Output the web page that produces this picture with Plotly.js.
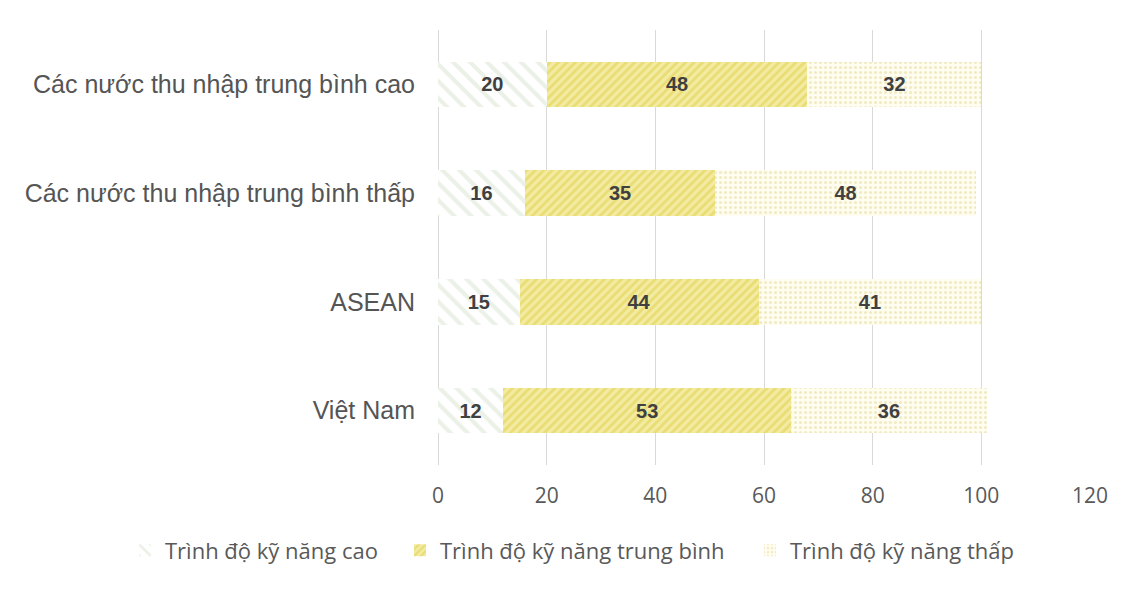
<!DOCTYPE html>
<html>
<head>
<meta charset="utf-8">
<script src="https://cdn.plot.ly/plotly-3.0.1.min.js"></script>
<style>html,body{margin:0;padding:0;background:#fff;}</style>
</head>
<body>
<div id="chart" style="width:1134px;height:597px;"></div>
<script>
const categories = ["Việt Nam", "ASEAN", "Các nước thu nhập trung bình thấp", "Các nước thu nhập trung bình cao"];
const seriesNames = ["Trình độ kỹ năng cao", "Trình độ kỹ năng trung bình", "Trình độ kỹ năng thấp"];
const highSkill = [12, 15, 16, 20];
const midSkill = [53, 44, 35, 48];
const lowSkill = [36, 41, 48, 32];
const xTicks = [0, 20, 40, 60, 80, 100, 120];

const styles = [
  {shape: "\\", fg: "#d8e3cf", bg: "#ffffff", size: 12, solidity: 0.35},
  {shape: "/", fg: "#dfcd44", bg: "#f3eba2", size: 6, solidity: 0.45},
  {shape: ".", fg: "#e2d898", bg: "#fffdf0", size: 5, solidity: 0.3}
];
const values = [highSkill, midSkill, lowSkill];
const legendIds = ["legend", "legend2", "legend3"];

const traces = values.map((vals, i) => ({
  type: "bar",
  orientation: "h",
  name: seriesNames[i],
  legend: legendIds[i],
  y: categories,
  x: vals,
  text: vals.map(String),
  textposition: "inside",
  insidetextanchor: "middle",
  constraintext: "none",
  textangle: 0,
  textfont: {family: "Liberation Sans, Arial, sans-serif", size: 20, color: "#404040", weight: "bold"},
  marker: {
    color: styles[i].bg,
    line: {width: 0},
    pattern: {shape: styles[i].shape, fgcolor: styles[i].fg, bgcolor: styles[i].bg, size: styles[i].size, solidity: styles[i].solidity, fillmode: "overlay"}
  },
  hoverinfo: "none"
}));

const legendBase = {
  orientation: "h",
  xref: "paper",
  xanchor: "left",
  y: -0.148, yanchor: "top",
  font: {size: 22, color: "#595959", family: "Open Sans, sans-serif"},
  itemwidth: 30,
  bgcolor: "rgba(0,0,0,0)"
};

const layout = {
  width: 1134, height: 597,
  barmode: "stack",
  bargap: 0.58,
  margin: {l: 438, r: 44, t: 30, b: 132, autoexpand: false},
  paper_bgcolor: "#ffffff",
  plot_bgcolor: "#ffffff",
  font: {family: "Liberation Sans, Arial, sans-serif", color: "#595959"},
  xaxis: {
    range: [0, 120],
    tickvals: xTicks,
    ticktext: xTicks.map(String),
    showgrid: true,
    gridcolor: "#d9d9d9",
    gridwidth: 1,
    zeroline: true,
    zerolinecolor: "#d9d9d9",
    zerolinewidth: 1,
    showline: false,
    ticks: "",
    ticklen: 0,
    ticklabelstandoff: 16,
    tickfont: {size: 21, color: "#595959", family: "Open Sans, sans-serif"},
    fixedrange: true
  },
  yaxis: {
    type: "category",
    categoryorder: "array",
    categoryarray: categories,
    showgrid: false,
    zeroline: false,
    showline: false,
    ticks: "",
    ticklabelstandoff: 22,
    tickfont: {size: 25, color: "#555555", family: "Liberation Sans, Arial, sans-serif"},
    fixedrange: true
  },
  legend: Object.assign({}, legendBase, {x: (125 - 438) / 652}),
  legend2: Object.assign({}, legendBase, {x: (400 - 438) / 652}),
  legend3: Object.assign({}, legendBase, {x: (750 - 438) / 652}),
  showlegend: true
};
Plotly.newPlot("chart", traces, layout, {displayModeBar: false, staticPlot: true});
</script>
</body>
</html>
